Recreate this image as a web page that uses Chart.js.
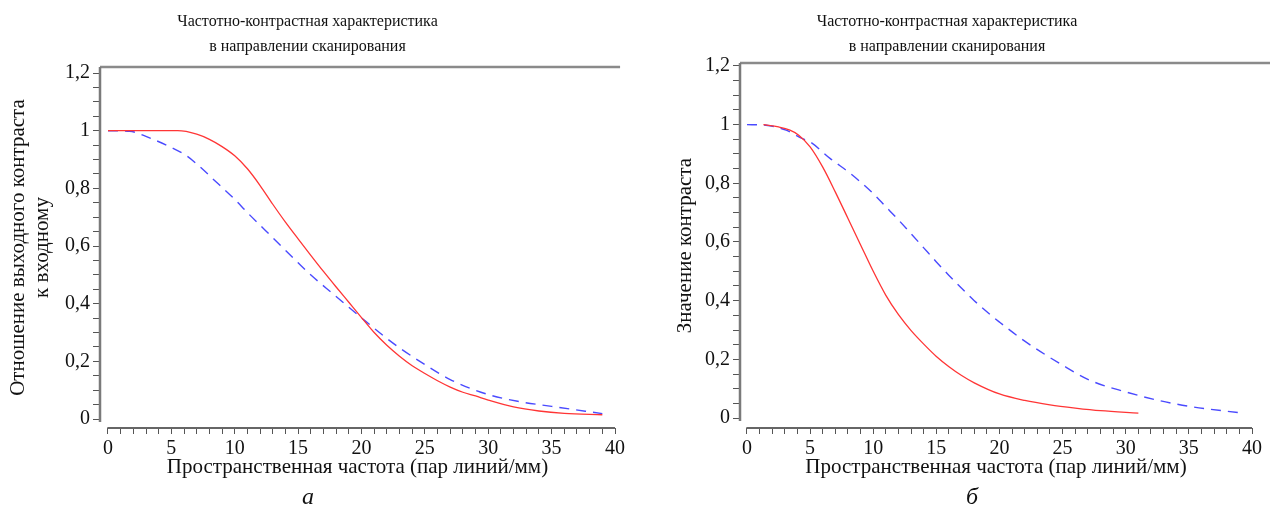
<!DOCTYPE html>
<html>
<head>
<meta charset="utf-8">
<script src="https://cdn.jsdelivr.net/npm/chart.js@4"></script>
<style>
  body { margin: 0; background: #fff; width: 1270px; height: 515px; overflow: hidden; position: relative; font-family: "Liberation Serif", serif; }
  .panel { position: absolute; top: 0; height: 515px; }
  #panelA { left: 0; width: 642px; }
  #panelB { left: 642px; width: 628px; }
  .letter { position: absolute; top: 484px; font-style: italic; font-size: 24px; line-height: 1; color: #111; }
</style>
</head>
<body>
<div class="panel" id="panelA"><canvas id="chartA"></canvas></div>
<div class="panel" id="panelB"><canvas id="chartB"></canvas></div>
<div class="letter" style="left:302px">а</div>
<div class="letter" style="left:966px">б</div>
<script>
const titleLines = ["Частотно-контрастная характеристика", "в направлении сканирования"];
const xTitle = "Пространственная частота (пар линий/мм)";
const yTitleA = ["Отношение выходного контраста", "к входному"];
const yTitleB = "Значение контраста";

// рисунок а - сплошная красная
const freqRedA = [0, 5.5, 7, 8, 9, 10, 11, 12, 13, 14, 15, 16, 17, 18, 19, 20, 21, 22, 23, 24, 25, 26, 27, 28, 29, 30, 32, 34, 36, 39];
const contrastRedA = [1, 1, 0.988, 0.97, 0.945, 0.913, 0.868, 0.81, 0.745, 0.683, 0.625, 0.568, 0.512, 0.458, 0.405, 0.352, 0.3, 0.256, 0.218, 0.185, 0.158, 0.133, 0.111, 0.093, 0.08, 0.066, 0.042, 0.028, 0.02, 0.015];
// рисунок а - синяя пунктирная
const freqBlueA = [0, 1.7, 3.5, 5, 6.2, 7.3, 8.3, 10, 11, 12.4, 13.7, 15, 16.1, 17.7, 20, 21.7, 23, 25, 27, 30, 32.4, 35, 39];
const contrastBlueA = [1, 0.998, 0.971, 0.942, 0.913, 0.873, 0.832, 0.762, 0.716, 0.655, 0.598, 0.542, 0.496, 0.436, 0.351, 0.29, 0.247, 0.189, 0.137, 0.085, 0.061, 0.044, 0.019];

// рисунок б - сплошная красная
const freqRedB = [1.3, 2.5, 3.4, 4.1, 5, 6, 7, 8, 9, 10, 11, 12, 13, 14, 15, 16, 17, 18, 20, 22, 24, 26, 28, 31];
const contrastRedB = [1, 0.992, 0.981, 0.964, 0.924, 0.855, 0.77, 0.68, 0.59, 0.5, 0.418, 0.352, 0.298, 0.252, 0.21, 0.175, 0.145, 0.12, 0.082, 0.06, 0.045, 0.034, 0.025, 0.017];
// рисунок б - синяя пунктирная
const freqBlueB = [0, 1.5, 3.1, 4.4, 5, 6.6, 8.2, 10, 11, 12, 13, 14, 15, 16, 17, 18, 19, 20, 22, 25, 27.2, 30, 32.6, 35, 39];
const contrastBlueB = [1, 0.998, 0.981, 0.952, 0.941, 0.884, 0.833, 0.765, 0.72, 0.675, 0.628, 0.58, 0.532, 0.486, 0.442, 0.4, 0.362, 0.327, 0.262, 0.18, 0.128, 0.089, 0.06, 0.04, 0.018];

const serif = "Liberation Serif";

function toPoints(xs, ys) {
    return xs.map((x, i) => ({x: x, y: ys[i]}));
}

// top frame line and the two offset axis lines (Maple style, axes don't touch)
const frameLines = {
    id: "frameLines",
    afterDraw(chart, args, opts) {
        const ctx = chart.ctx;
        const area = chart.chartArea;
        const xs = chart.scales.x;
        const ys = chart.scales.y;
        ctx.save();
        ctx.strokeStyle = "#8a8a8a";
        ctx.lineWidth = 2.5;
        ctx.beginPath();
        ctx.moveTo(area.left, area.top);
        ctx.lineTo(xs.getPixelForValue(opts.frameEnd), area.top);
        ctx.stroke();
        ctx.strokeStyle = "#7a7a7a";
        ctx.beginPath();
        ctx.moveTo(area.left, area.top);
        ctx.lineTo(area.left, ys.getPixelForValue(-0.01));
        ctx.stroke();
        ctx.strokeStyle = "#666";
        ctx.lineWidth = 2;
        ctx.beginPath();
        ctx.moveTo(xs.getPixelForValue(-0.05), area.bottom);
        ctx.lineTo(xs.getPixelForValue(40), area.bottom);
        ctx.stroke();
        ctx.restore();
    }
};

function makeChart(canvasId, cfg) {
    return new Chart(document.getElementById(canvasId), {
        type: "scatter",
        data: {
            datasets: [{
                data: toPoints(cfg.redX, cfg.redY),
                borderColor: "#ff3535",
                borderWidth: 1.3,
                showLine: true,
                pointRadius: 0,
                cubicInterpolationMode: "monotone"
            }, {
                data: toPoints(cfg.blueX, cfg.blueY),
                borderColor: "#4a4aff",
                borderWidth: 1.4,
                borderDash: [10, 7],
                showLine: true,
                pointRadius: 0,
                cubicInterpolationMode: "monotone"
            }]
        },
        options: {
            responsive: true,
            maintainAspectRatio: false,
            animation: false,
            layout: {padding: {left: 0, right: cfg.padRight, top: 0, bottom: 30}},
            plugins: {
                legend: {display: false},
                tooltip: {enabled: false},
                title: {
                    display: true,
                    text: titleLines,
                    color: "#111",
                    font: {family: serif, size: 16, weight: "normal", lineHeight: 1.5625},
                    padding: {top: 9.5, bottom: cfg.titleGap}
                },
                frameLines: {frameEnd: cfg.frameEnd}
            },
            scales: {
                x: {
                    type: "linear",
                    min: cfg.xMin,
                    max: 40,
                    afterFit: s => { s.height = 57; },
                    border: {display: false},
                    grid: {drawOnChartArea: false, drawTicks: true, tickLength: 6, color: "#555", lineWidth: 1},
                    ticks: {
                        stepSize: 1,
                        maxTicksLimit: 100,
                        autoSkip: false,
                        maxRotation: 0,
                        includeBounds: false,
                        padding: 3,
                        color: "#111",
                        font: {family: serif, size: 20},
                        callback: v => (Math.abs(v - Math.round(v / 5) * 5) < 1e-6 ? String(Math.round(v)) : "")
                    },
                    title: {
                        display: true,
                        text: xTitle,
                        color: "#111",
                        font: {family: serif, size: 21, lineHeight: 1.2},
                        padding: {top: 0, bottom: 5.4}
                    }
                },
                y: {
                    type: "linear",
                    min: cfg.yMin,
                    max: cfg.yMax,
                    afterFit: s => { s.width = cfg.yWidth; },
                    border: {display: false},
                    grid: {drawOnChartArea: false, drawTicks: true, tickLength: 7, color: "#555", lineWidth: 1},
                    ticks: {
                        stepSize: 0.05,
                        maxTicksLimit: 100,
                        autoSkip: false,
                        includeBounds: false,
                        padding: 3,
                        color: "#111",
                        font: {family: serif, size: 20},
                        callback: v => {
                            const k = v / 0.2;
                            if (Math.abs(k - Math.round(k)) > 1e-6) return "";
                            return String(Math.round(v * 10) / 10).replace(".", ",");
                        }
                    },
                    title: {
                        display: true,
                        text: cfg.yTitle,
                        color: "#111",
                        font: {family: serif, size: 21, lineHeight: 1.143},
                        padding: {top: cfg.yTitlePad, bottom: 0}
                    }
                }
            }
        },
        plugins: [frameLines]
    });
}

makeChart("chartA", {
    redX: freqRedA, redY: contrastRedA,
    blueX: freqBlueA, blueY: contrastBlueA,
    padRight: 27, titleGap: 7.5, frameEnd: 40.4,
    xMin: -0.63, yMin: -0.031, yMax: 1.221, yWidth: 100,
    yTitle: yTitleA, yTitlePad: 6
});

makeChart("chartB", {
    redX: freqRedB, redY: contrastRedB,
    blueX: freqBlueB, blueY: contrastBlueB,
    padRight: 18, titleGap: 3.5, frameEnd: 41.5,
    xMin: -0.554, yMin: -0.034, yMax: 1.21, yWidth: 98,
    yTitle: yTitleB, yTitlePad: 31
});
</script>
</body>
</html>
